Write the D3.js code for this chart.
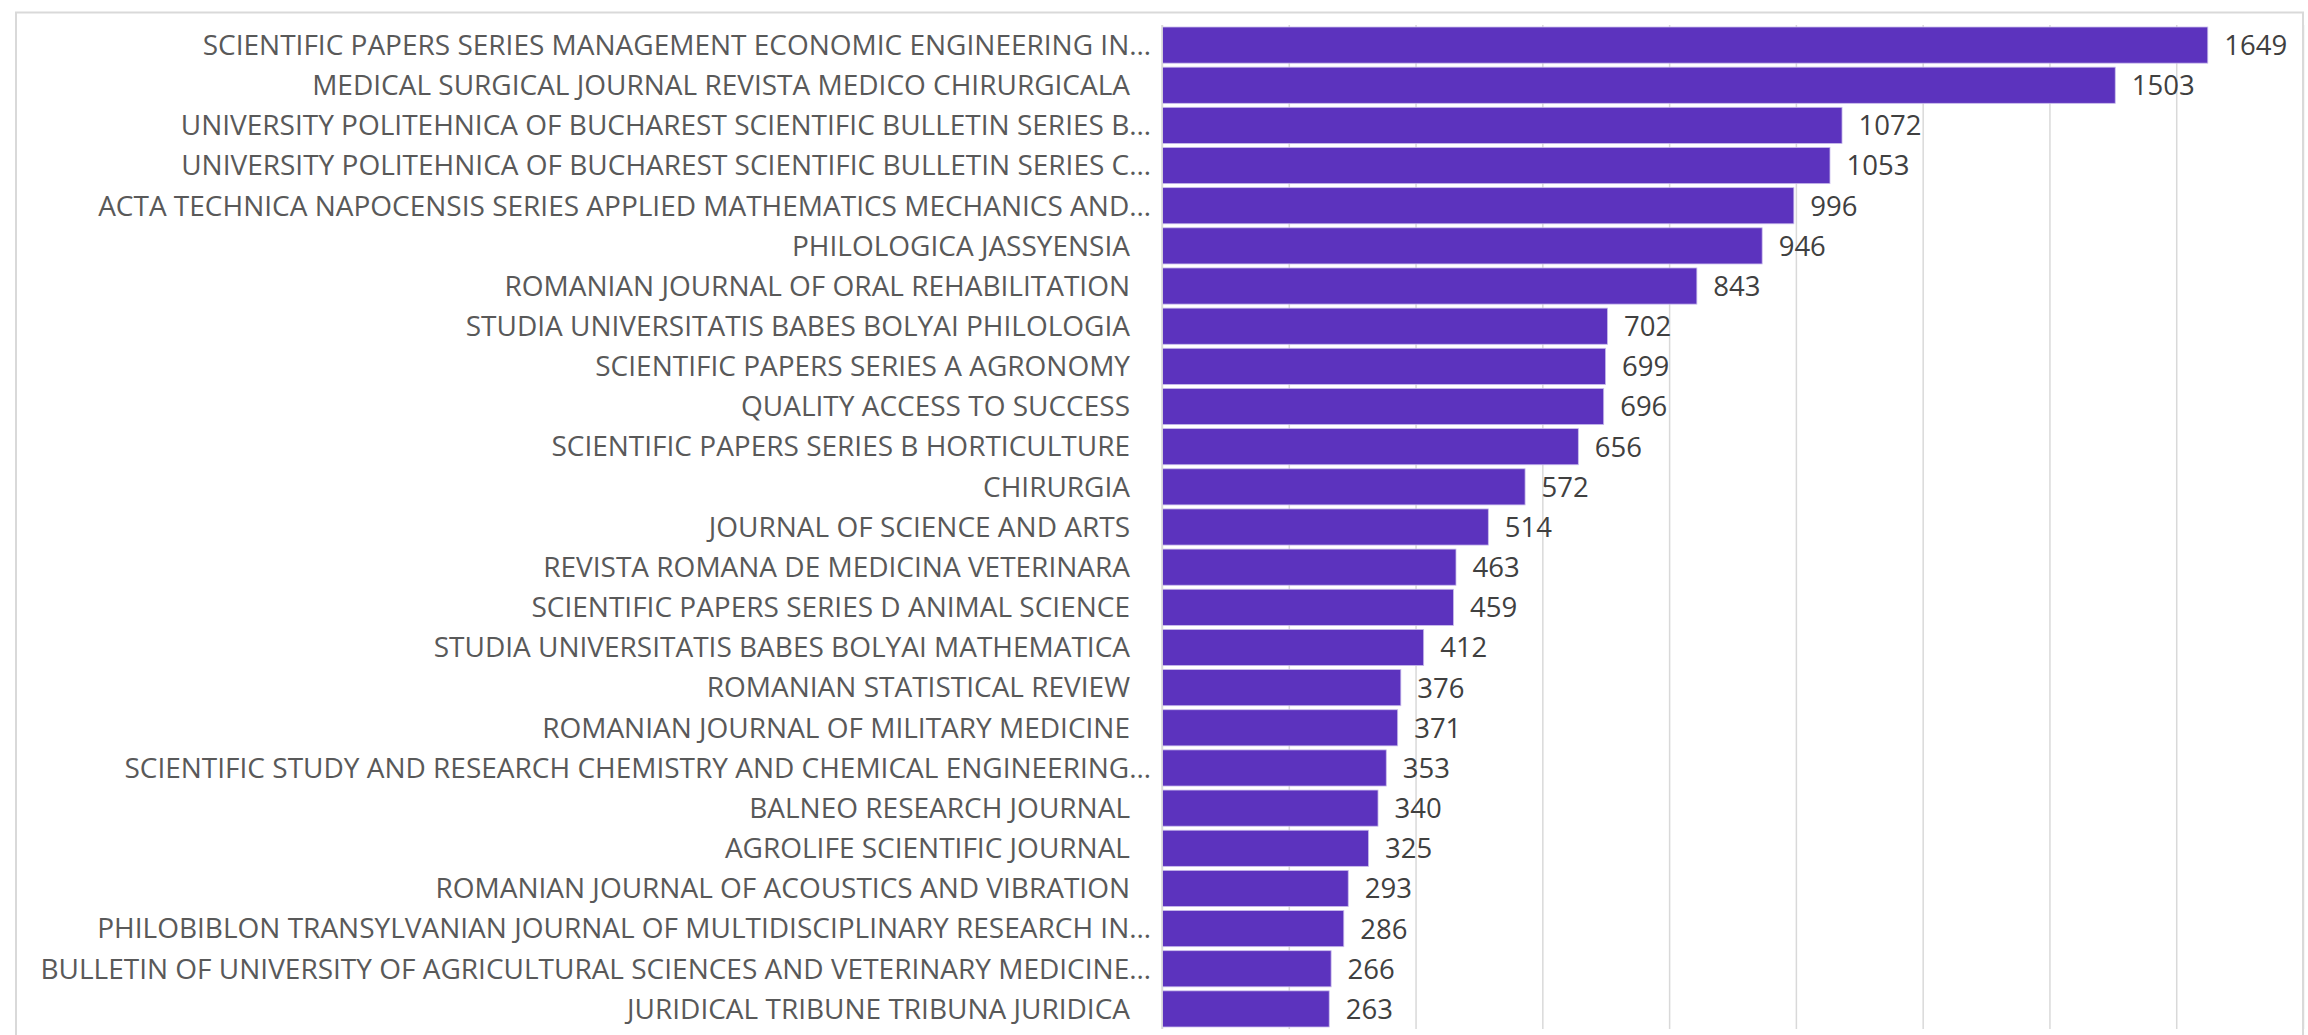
<!DOCTYPE html>
<html>
<head>
<meta charset="utf-8">
<script src="https://cdn.jsdelivr.net/npm/d3@7"></script>
<style>
  body { margin: 0; background: #ffffff; }
  text { font-family: "Open Sans", "Noto Sans", sans-serif; }
</style>
</head>
<body>
<div id="chart"></div>
<script>
// journals, top to bottom
var journals = [
  "SCIENTIFIC PAPERS SERIES MANAGEMENT ECONOMIC ENGINEERING IN…",
  "MEDICAL SURGICAL JOURNAL REVISTA MEDICO CHIRURGICALA",
  "UNIVERSITY POLITEHNICA OF BUCHAREST SCIENTIFIC BULLETIN SERIES B…",
  "UNIVERSITY POLITEHNICA OF BUCHAREST SCIENTIFIC BULLETIN SERIES C…",
  "ACTA TECHNICA NAPOCENSIS SERIES APPLIED MATHEMATICS MECHANICS AND…",
  "PHILOLOGICA JASSYENSIA",
  "ROMANIAN JOURNAL OF ORAL REHABILITATION",
  "STUDIA UNIVERSITATIS BABES BOLYAI PHILOLOGIA",
  "SCIENTIFIC PAPERS SERIES A AGRONOMY",
  "QUALITY ACCESS TO SUCCESS",
  "SCIENTIFIC PAPERS SERIES B HORTICULTURE",
  "CHIRURGIA",
  "JOURNAL OF SCIENCE AND ARTS",
  "REVISTA ROMANA DE MEDICINA VETERINARA",
  "SCIENTIFIC PAPERS SERIES D ANIMAL SCIENCE",
  "STUDIA UNIVERSITATIS BABES BOLYAI MATHEMATICA",
  "ROMANIAN STATISTICAL REVIEW",
  "ROMANIAN JOURNAL OF MILITARY MEDICINE",
  "SCIENTIFIC STUDY AND RESEARCH CHEMISTRY AND CHEMICAL ENGINEERING…",
  "BALNEO RESEARCH JOURNAL",
  "AGROLIFE SCIENTIFIC JOURNAL",
  "ROMANIAN JOURNAL OF ACOUSTICS AND VIBRATION",
  "PHILOBIBLON TRANSYLVANIAN JOURNAL OF MULTIDISCIPLINARY RESEARCH IN…",
  "BULLETIN OF UNIVERSITY OF AGRICULTURAL SCIENCES AND VETERINARY MEDICINE…",
  "JURIDICAL TRIBUNE TRIBUNA JURIDICA"
];

var counts = [1649, 1503, 1072, 1053, 996, 946, 843, 702, 699, 696, 656, 572, 514,
  463, 459, 412, 376, 371, 353, 340, 325, 293, 286, 266, 263];

var gridTicks = [0, 200, 400, 600, 800, 1000, 1200, 1400, 1600, 1800];

// Step 1: chart size
var svgWidth = 2308;
var svgHeight = 1035;

var margin = { top: 25, right: 5, bottom: 6, left: 1162 };
var width = svgWidth - margin.left - margin.right;
var height = svgHeight - margin.top - margin.bottom;

var rows = journals.map((name, i) => ({ name: name, count: counts[i] }));

// Step 2: svg + outer frame
var svg = d3.select("#chart")
  .append("svg")
  .attr("width", svgWidth)
  .attr("height", svgHeight);

svg.append("rect")
  .attr("x", 16)
  .attr("y", 12.5)
  .attr("width", 2287)
  .attr("height", 1040)
  .attr("fill", "none")
  .attr("stroke", "#d9d9d9")
  .attr("stroke-width", 2);

var chartGroup = svg.append("g")
  .attr("transform", `translate(${margin.left}, ${margin.top})`);

// Step 3: scales
var xLinearScale = d3.scaleLinear()
  .domain([0, 1800])
  .range([0, width]);

var yBandScale = d3.scaleBand()
  .domain(journals)
  .range([0, height])
  .paddingInner(0.1)
  .paddingOuter(0.05);

// Step 4: gridlines
chartGroup.append("g")
  .attr("class", "grid")
  .call(d3.axisBottom(xLinearScale).tickValues(gridTicks).tickSize(height).tickFormat(""))
  .call(g => g.select(".domain").remove())
  .selectAll("line")
  .attr("stroke", "#d9d9d9")
  .attr("stroke-width", 1.5);

// Step 5: bars
chartGroup.selectAll("rect.bar")
  .data(rows)
  .enter()
  .append("rect")
  .attr("class", "bar")
  .attr("x", 0.5)
  .attr("y", d => yBandScale(d.name))
  .attr("width", d => xLinearScale(d.count))
  .attr("height", yBandScale.bandwidth())
  .attr("fill", "#5c33be")
  .attr("stroke", "#c9bcec")
  .attr("stroke-width", 0.8);

// category axis line
chartGroup.append("line")
  .attr("x1", 0).attr("x2", 0)
  .attr("y1", 0).attr("y2", height)
  .attr("stroke", "#d9d9d9")
  .attr("stroke-width", 1.5);

// Step 6: category labels
chartGroup.selectAll("text.label")
  .data(rows)
  .enter()
  .append("text")
  .attr("class", "label")
  .attr("x", d => d.name.endsWith("…") ? -11 : -32)
  .attr("y", d => yBandScale(d.name) + yBandScale.bandwidth() / 2)
  .attr("dy", "0.35em")
  .attr("text-anchor", "end")
  .attr("font-size", 28)
  .attr("fill", "#595959")
  .text(d => d.name);

// Step 7: value labels
chartGroup.selectAll("text.value")
  .data(rows)
  .enter()
  .append("text")
  .attr("class", "value")
  .attr("x", d => xLinearScale(d.count) + 17)
  .attr("y", d => yBandScale(d.name) + yBandScale.bandwidth() / 2)
  .attr("dy", "0.36em")
  .attr("font-size", 27.5)
  .attr("fill", "#404040")
  .text(d => d.count);
</script>
</body>
</html>
